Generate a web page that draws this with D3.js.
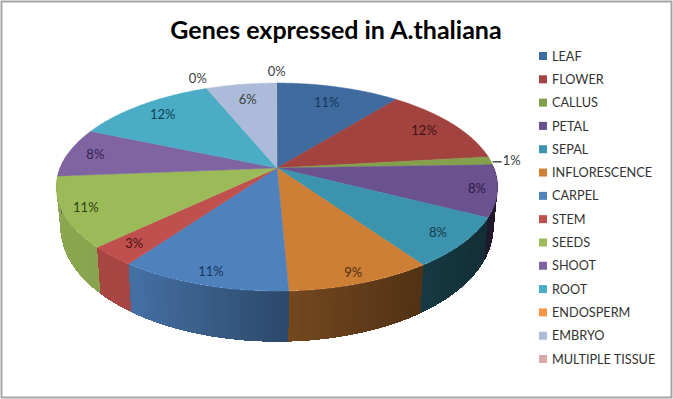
<!DOCTYPE html>
<html>
<head>
<meta charset="utf-8">
<script src="https://cdn.jsdelivr.net/npm/d3@7"></script>
<style>
    html, body { margin: 0; padding: 0; background: #fff; }
    svg { display: block; }
    text { font-family: Lato, "Open Sans", sans-serif; }
</style>
</head>
<body>
<div id="chart"></div>
<script>
const tissues = ["LEAF", "FLOWER", "CALLUS", "PETAL", "SEPAL", "INFLORESCENCE", "CARPEL", "STEM", "SEEDS", "SHOOT", "ROOT", "ENDOSPERM", "EMBRYO", "MULTIPLE TISSUE"];
const shares = [10.8, 12.4, 1.3, 8.0, 7.8, 9.0, 10.6, 3.0, 10.85, 7.65, 12.4, 0.03, 6.14, 0.03];
const colors = ["#3f6b9f", "#a34340", "#84a04c", "#6a5290", "#3b93ad", "#cd7f36", "#4f81bd", "#c0504d", "#9bbb59", "#8064a2", "#4bacc6", "#f79646", "#abbbd9", "#d9a9ab"];

const width = 673, height = 399;

const svg = d3.select("#chart").append("svg")
    .attr("width", width)
    .attr("height", height)
    .attr("viewBox", `0 0 ${width} ${height}`);

svg.append("rect")
    .attr("x", 1.5).attr("y", 1.5)
    .attr("width", width - 3).attr("height", height - 3)
    .attr("fill", "#fff")
    .attr("stroke", "#a6a6a6")
    .attr("stroke-width", 2);

svg.append("text")
    .attr("x", 336).attr("y", 39)
    .attr("text-anchor", "middle")
    .attr("font-size", 25)
    .attr("font-weight", 700)
    .attr("fill", "#000")
    .text("Genes expressed in A.thaliana");

// tilted disc: perspective projection of a unit circle
const cx = 277, cy = 168, R = 217, S = 100.5, k = 0.183;

function project(angle, r = 1) {
    const u = Math.sin(angle) * r, v = -Math.cos(angle) * r;
    const w = 1 - k * v;
    return [cx + R * u / w, cy + S * v / w];
}

// same point on the lower edge of the disc
function projectBottom(angle) {
    const [x, y] = project(angle);
    const v = -Math.cos(angle);
    return [cx + (x - cx) * 0.982, cy + (y - cy) * 0.982 + 37 + 16 * v];
}

const pie = d3.pie().value(d => d).sort(null);
const arcs = pie(shares);
const color = d3.scaleOrdinal().domain(tissues).range(colors);
const line = d3.line();

function arcSamples(a) {
    const n = Math.max(2, Math.ceil((a.endAngle - a.startAngle) / 0.01));
    return d3.range(n + 1).map(i => a.startAngle + (a.endAngle - a.startAngle) * i / n);
}

// side wall, shaded darker towards the right
const shade = d3.scaleLinear().domain([-1, -0.55, 0, 0.6, 1]).range([0.1, 0.14, 0.42, 0.62, 0.72]);
const wall = svg.append("g");
arcs.forEach(a => {
    const samples = arcSamples(a);
    d3.pairs(samples).forEach(([t0, t1]) => {
        if (Math.cos((t0 + t1) / 2) > 0.15) return;
        wall.append("path")
            .attr("d", line([project(t0), project(t1), projectBottom(t1), projectBottom(t0)]) + "Z")
            .attr("fill", d3.interpolateRgb(color(tissues[a.index]), "#000")(shade(Math.sin((t0 + t1) / 2))))
            .attr("stroke", "none")
            .attr("shape-rendering", "crispEdges");
    });
});

// top face, the near-zero slices stay as thin as they are
svg.append("g").selectAll("path")
    .data(arcs)
    .enter().append("path")
    .attr("d", a => line([[cx, cy], ...arcSamples(a).map(t => project(t))]) + "Z")
    .attr("fill", a => color(tissues[a.index]))
    .attr("stroke", a => color(tissues[a.index]))
    .attr("stroke-width", a => a.data < 0.5 ? 0 : 0.5);

// leader for the callus label
const callusEdge = project((arcs[2].startAngle + arcs[2].endAngle) / 2);
svg.append("line")
    .attr("x1", callusEdge[0] + 2).attr("x2", callusEdge[0] + 11)
    .attr("y1", callusEdge[1] + 1).attr("y2", callusEdge[1] + 1)
    .attr("stroke", "#222")
    .attr("stroke-width", 1.2);

// percent labels, distance along each slice
const pct = d3.format(".0%");
const labelRadius = [0.78, 0.83, 1.1, 0.91, 0.88, 0.92, 0.9, 0.88, 0.9, 0.87, 0.83, 1.15, 0.8, 1.17];
const labelColors = ["#17375e", "#3f1211", "#3a3a3a", "#2a1a45", "#123c4a", "#4f2d0c", "#17375e", "#4a1211", "#2f4010", "#33224f", "#0b4254", "#404040", "#404040", "#404040"];

svg.append("g").selectAll("text")
    .data(arcs)
    .enter().append("text")
    .attr("transform", (a, i) => {
        const mid = (a.startAngle + a.endAngle) / 2;
        const [x, y] = project(mid, labelRadius[i]);
        return `translate(${x},${y})`;
    })
    .attr("text-anchor", "middle")
    .attr("dy", "0.35em")
    .attr("font-size", 13)
    .attr("fill", (a, i) => labelColors[i])
    .text(a => pct(a.data / 100));

// legend
const legendY = d3.scalePoint().domain(tissues).range([56, 359]);
const legend = svg.append("g").selectAll("g")
    .data(tissues)
    .enter().append("g")
    .attr("transform", d => `translate(539,${legendY(d)})`);

legend.append("rect")
    .attr("x", 0).attr("y", -4)
    .attr("width", 8).attr("height", 8)
    .attr("fill", d => color(d));

legend.append("text")
    .attr("x", 13)
    .attr("dy", "0.36em")
    .attr("font-size", 12.7)
    .attr("fill", "#333")
    .text(d => d);
</script>
</body>
</html>
